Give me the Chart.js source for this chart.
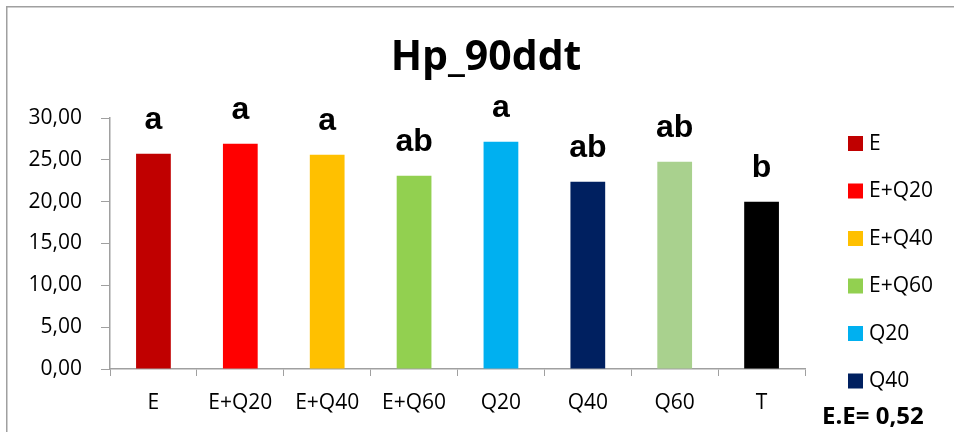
<!DOCTYPE html>
<html>
  <head>
    <title>Hp_90ddt</title>
    <script src="https://cdn.jsdelivr.net/npm/chart.js"></script>
    <style>
      body {
        margin: 0;
        background: #fff;
      }
      #chart-container {
        width: 954px;
        height: 432px;
      }
    </style>
  </head>
  <body>
    <div id="chart-container">
      <canvas id="hpChart" width="954" height="432"></canvas>
    </div>
    <script>
      const categories = ["E", "E+Q20", "E+Q40", "E+Q60", "Q20", "Q40", "Q60", "T"];
      const values = [25.72, 26.92, 25.6, 23.1, 27.16, 22.38, 24.77, 19.99];
      const letters = ["a", "a", "a", "ab", "a", "ab", "ab", "b"];
      const barColors = ["#C00000", "#FF0000", "#FFC000", "#92D050", "#00B0F0", "#002060", "#A9D18E", "#000000"];
      const yTicks = [0, 5, 10, 15, 20, 25, 30];
      const legendShown = 6; // the last two entries fall outside the frame
      const titleText = "Hp_90ddt";
      const noteText = "E.E= 0,52";

      const axisGray = "#a0a0a0";
      const sansFont = "'Open Sans', sans-serif";

      // frame, title, letters, legend and note
      const decorations = {
        id: "decorations",
        beforeDraw(chart) {
          const ctx = chart.ctx;
          ctx.save();
          ctx.fillStyle = "#fff";
          ctx.fillRect(0, 0, chart.width, chart.height);
          ctx.strokeStyle = axisGray;
          ctx.lineWidth = 1.5;
          ctx.beginPath();
          ctx.moveTo(6.75, chart.height);
          ctx.lineTo(6.75, 6.75);
          ctx.lineTo(chart.width, 6.75);
          ctx.stroke();
          ctx.restore();
        },
        afterDatasetsDraw(chart) {
          const ctx = chart.ctx;
          const meta = chart.getDatasetMeta(0);
          ctx.save();
          ctx.fillStyle = "#000";
          ctx.textAlign = "center";
          ctx.textBaseline = "alphabetic";
          ctx.font = "bold 32px 'Liberation Sans', Arial, sans-serif";
          meta.data.forEach((bar, i) => {
            ctx.fillText(letters[i], bar.x, bar.y - 25);
          });

          ctx.font = "bold 41px " + sansFont;
          ctx.fillText(titleText, 486, 70);

          ctx.textAlign = "left";
          ctx.textBaseline = "middle";
          ctx.font = "21px " + sansFont;
          for (let i = 0; i < legendShown; i++) {
            const y = 143 + i * 47.5;
            ctx.fillStyle = barColors[i];
            ctx.fillRect(848, y - 7, 15, 15);
            ctx.fillStyle = "#000";
            ctx.fillText(categories[i], 869, y + 1);
          }

          ctx.textBaseline = "alphabetic";
          ctx.font = "bold 24px " + sansFont;
          ctx.fillText(noteText, 822, 424);
          ctx.restore();
        },
      };

      const ctx = document.getElementById("hpChart").getContext("2d");
      const hpChart = new Chart(ctx, {
        type: "bar",
        data: {
          labels: categories,
          datasets: [
            {
              data: values,
              backgroundColor: barColors,
              barPercentage: 0.4,
              categoryPercentage: 1,
            },
          ],
        },
        options: {
          responsive: false,
          animation: false,
          layout: {
            padding: { top: 118, right: 149, left: 0, bottom: 0 },
          },
          scales: {
            x: {
              grid: {
                display: true,
                drawOnChartArea: false,
                drawTicks: true,
                tickLength: 7,
                color: axisGray,
                offset: true,
              },
              border: { color: axisGray, width: 1.5 },
              ticks: {
                color: "#000",
                font: { family: sansFont, size: 21 },
                padding: 14,
                maxRotation: 0,
              },
              afterFit: (scale) => {
                scale.height = 63;
              },
            },
            y: {
              min: 0,
              max: 30,
              afterBuildTicks: (scale) => {
                scale.ticks = yTicks.map((v) => ({ value: v }));
              },
              grid: {
                display: true,
                drawOnChartArea: false,
                drawTicks: true,
                tickLength: 9,
                color: axisGray,
              },
              border: { color: axisGray, width: 1.5 },
              ticks: {
                color: "#000",
                font: { family: sansFont, size: 21 },
                padding: 19,
                callback: (value) => Number(value).toFixed(2).replace(".", ","),
              },
              afterFit: (scale) => {
                scale.width = 110;
              },
            },
          },
          plugins: {
            legend: { display: false },
            title: { display: false },
            tooltip: { enabled: false },
          },
        },
        plugins: [decorations],
      });
    </script>
  </body>
</html>
